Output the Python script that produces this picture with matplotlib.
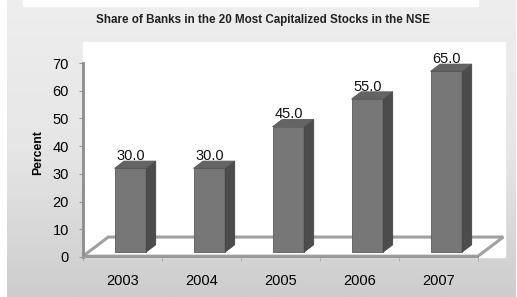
import numpy as np
import matplotlib
matplotlib.use("Agg")
import matplotlib.pyplot as plt
from matplotlib.patches import Rectangle, Polygon

plt.rcParams['font.family'] = ['Liberation Sans', 'DejaVu Sans']

years = ["2003", "2004", "2005", "2006", "2007"]
shares = [30.0, 30.0, 45.0, 55.0, 65.0]
yticks = [0, 10, 20, 30, 40, 50, 60, 70]

W, H = 517, 297
fig = plt.figure(figsize=(W / 100, H / 100), dpi=100)
fig.patch.set_facecolor("white")

# grey gradient panel behind everything
bg = fig.add_axes([7 / W, 0, (516 - 7) / W, 1])
grad = np.linspace(0, 1, 256).reshape(-1, 1)
bg.imshow(grad, aspect="auto", cmap=matplotlib.colors.LinearSegmentedColormap.from_list(
    "g", ["#eeeeee", "#e6e6e6", "#cdcdcd"]), extent=[0, 1, 0, 1], origin="upper")
bg.set_axis_off()

fig.add_artist(Rectangle((23 / W, 1 - 6 / H), (478 - 23) / W, 6 / H,
                         transform=fig.transFigure, color="white", zorder=1))
fig.add_artist(Rectangle((83 / W, 40 / H), (505 - 83) / W, (257 - 42) / H,
                         transform=fig.transFigure, color="white", zorder=1))

ax = fig.add_axes([83 / W, 40 / H, (505 - 83) / W, (257 - 42) / H], zorder=2)
ax.set_facecolor("none")
ax.set_xlim(-0.5, -0.5 + 422 / 79)
ax.set_ylim(0, 215 / 2.771)

# floor
depth_x, depth_y = 0.32, 7.2
floor = Polygon([(-0.5, 0.3), (4.5, 0.3), (4.5 + depth_x, depth_y), (-0.5 + depth_x, depth_y)],
                closed=True, facecolor="white", edgecolor="#a0a0a0", lw=2.2, zorder=1)
ax.add_patch(floor)

# bars with fake 3d
x = np.arange(len(years))
off, bw, base = 0.1, 0.4, 1.8
dx, dy = 0.12, 2.6
ax.bar(x + off, [v + 2 - base for v in shares], bw, bottom=base,
       color="#777777", edgecolor="#5a5a5a", lw=0.6, zorder=3)
for xi, v in zip(x + off, shares):
    xl, xr, top = xi - bw / 2, xi + bw / 2, v + 2
    ax.add_patch(Polygon([(xr, base), (xr + dx, base + dy), (xr + dx, top + dy), (xr, top)],
                         closed=True, facecolor="#4c4c4c", edgecolor="#444444", lw=0.6, zorder=3))
    ax.add_patch(Polygon([(xl, top), (xr, top), (xr + dx, top + dy), (xl + dx, top + dy)],
                         closed=True, facecolor="#646464", edgecolor="#555555", lw=0.6, zorder=3))
    ax.text(xi, v + 5, f"{v:.1f}", ha="center", va="baseline", fontsize=10.5, color="#111111", zorder=4)

for s in ["top", "right"]:
    ax.spines[s].set_visible(False)
ax.spines["left"].set_color("#8c8c8c")
ax.spines["left"].set_linewidth(2)
ax.spines["left"].set_bounds(0, 70)
ax.spines["bottom"].set_color("#9a9a9a")
ax.spines["bottom"].set_linewidth(1.5)
ax.spines["bottom"].set_bounds(-0.5, 4.5)

ax.set_yticks(yticks)
ax.set_yticklabels([str(t) for t in yticks], fontsize=10.5)
ax.tick_params(axis="y", length=3, color="#999999", pad=7)
ax.set_xticks(x)
ax.set_xticklabels(years, fontsize=10.5)
ax.set_xticks(np.arange(-0.5, 5, 1), minor=True)
ax.tick_params(axis="x", which="major", length=0, pad=12)
ax.tick_params(axis="x", which="minor", length=3, color="#aaaaaa")

fig.text(38 / W, 1 - 153 / H, "Percent", rotation=90, ha="center", va="center",
         fontsize=8.8, fontweight="bold")
fig.text(263 / W, 1 - 20 / H, "Share of Banks in the 20 Most Capitalized Stocks in the NSE",
         ha="center", va="center", fontsize=8.4, fontweight="bold", color="#222222")

fig.savefig("out.png", dpi=100)
